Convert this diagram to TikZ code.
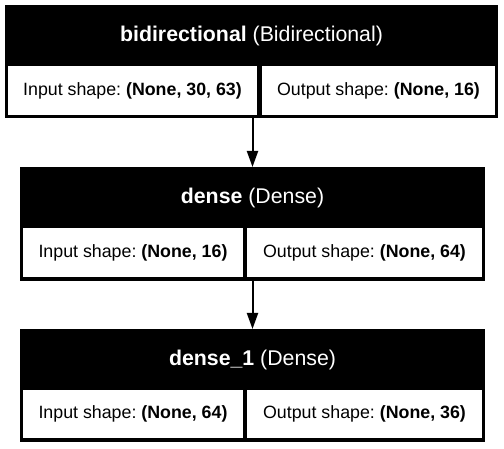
\documentclass[tikz,border=0pt]{standalone}
\usepackage{fontspec}
\setmainfont{Liberation Sans}
\usetikzlibrary{arrows.meta}
\tikzset{
  layerbox/.style={fill=black, inner sep=0pt, outer sep=0pt, anchor=north west},
  cellbox/.style={fill=white, inner sep=0pt, outer sep=0pt, anchor=north west,
    font=\fontsize{17.8}{20}\selectfont},
  headtext/.style={text=white, inner sep=0pt, font=\fontsize{21.3}{24}\selectfont},
  flow/.style={line width=2pt, -{Triangle[length=16pt,width=11pt]}}
}
\begin{document}
\begin{tikzpicture}[x=1pt,y=-1pt]
\useasboundingbox (0,0) rectangle (504,449);
% layer 1
\node[layerbox, minimum width=493pt, minimum height=113pt] (b1) at (5,5) {};
\node[headtext] (h1) at (251.5,36) {\textbf{bidirectional} (Bidirectional)};
\node[cellbox, minimum width=249pt, minimum height=49pt] (i1) at (8,66) {Input shape:\ \textbf{(None, 30, 63)}};
\node[cellbox, minimum width=233pt, minimum height=49pt] (o1) at (262,66) {Output shape:\ \textbf{(None, 16)}};
% layer 2
\node[layerbox, minimum width=465pt, minimum height=114pt] (b2) at (20,167) {};
\node[headtext] (h2) at (252.5,197.5) {\textbf{dense} (Dense)};
\node[cellbox, minimum width=220pt, minimum height=49pt] (i2) at (23,228) {Input shape:\ \textbf{(None, 16)}};
\node[cellbox, minimum width=235pt, minimum height=49pt] (o2) at (247,228) {Output shape:\ \textbf{(None, 64)}};
% layer 3
\node[layerbox, minimum width=465pt, minimum height=113pt] (b3) at (20,329) {};
\node[headtext] (h3) at (252.5,359.5) {\textbf{dense\_1} (Dense)};
\node[cellbox, minimum width=220pt, minimum height=48pt] (i3) at (23,390) {Input shape:\ \textbf{(None, 64)}};
\node[cellbox, minimum width=235pt, minimum height=48pt] (o3) at (247,390) {Output shape:\ \textbf{(None, 36)}};
% connectors
\draw[flow] (b1.south -| b2.north) -- (b2.north);
\draw[flow] (b2.south) -- (b3.north);
\end{tikzpicture}
\end{document}
